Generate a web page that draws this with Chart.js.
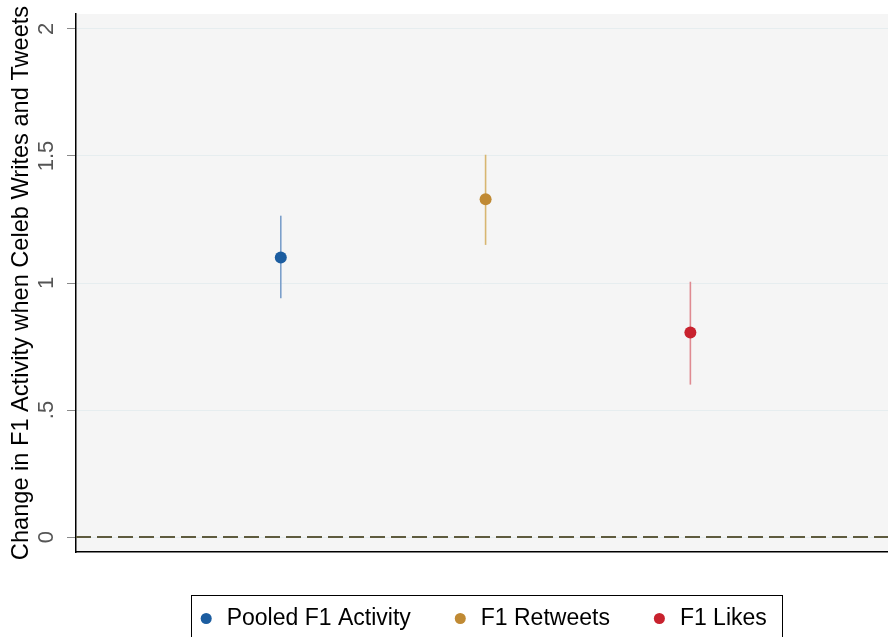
<!DOCTYPE html>
<html>
<head>
<meta charset="utf-8">
<script src="https://cdn.jsdelivr.net/npm/chart.js@4.4.1/dist/chart.umd.min.js"></script>
<style>
  html, body { margin: 0; padding: 0; background: #fff; }
</style>
</head>
<body>
<canvas id="coefChart" width="888" height="637"></canvas>
<script>
// coefficient estimates with 95% CI
const seriesNames = ['Pooled F1 Activity', 'F1 Retweets', 'F1 Likes'];
const seriesX = [1, 2, 3];
const estimates = [1.10, 1.33, 0.805];
const ciLow = [0.94, 1.15, 0.60];
const ciHigh = [1.265, 1.505, 1.005];
const yTicks = [0, 0.5, 1, 1.5, 2];
const yTickLabels = ['0', '.5', '1', '1.5', '2'];

const dotColors = ['#1c5da0', '#c08a34', '#c8222e'];
const barColors = ['#7b9fca', '#d7b670', '#df8a91'];

const FONT = "'Liberation Sans', Arial, Helvetica, sans-serif";

// light grey plot region
const plotBg = {
  id: 'plotBg',
  beforeDraw(chart) {
    const { ctx, chartArea: a } = chart;
    ctx.save();
    ctx.fillStyle = '#f5f5f5';
    ctx.fillRect(a.left, a.top, a.right - a.left, a.bottom - a.top);
    ctx.restore();
  }
};

// frame round the legend
const legendFrame = {
  id: 'legendFrame',
  afterDraw(chart) {
    const boxes = chart.legend.legendHitBoxes;
    if (!boxes || !boxes.length) return;
    const ctx = chart.ctx;
    const l = Math.min(...boxes.map(b => b.left)) - 6;
    const r = Math.max(...boxes.map(b => b.left + b.width)) + 15;
    const t = boxes[0].top - 12;
    ctx.save();
    ctx.strokeStyle = '#000';
    ctx.lineWidth = 1;
    ctx.strokeRect(Math.round(l) + 0.5, Math.round(t) + 0.5, Math.round(r - l), 80);
    ctx.restore();
  }
};

const datasets = [];

// the points (these go in the legend)
seriesNames.forEach((name, i) => {
  datasets.push({
    type: 'scatter',
    label: name,
    data: [{ x: seriesX[i], y: estimates[i] }],
    backgroundColor: dotColors[i],
    borderColor: dotColors[i],
    pointRadius: 6,
    pointBorderWidth: 0,
    order: 0
  });
});

// confidence interval spikes
seriesNames.forEach((name, i) => {
  datasets.push({
    type: 'line',
    label: 'ci',
    data: [{ x: seriesX[i], y: ciLow[i] }, { x: seriesX[i], y: ciHigh[i] }],
    borderColor: barColors[i],
    borderWidth: 1.6,
    pointRadius: 0,
    fill: false,
    order: 1
  });
});

// zero reference line
datasets.push({
  type: 'line',
  label: 'zero',
  data: [{ x: 0, y: 0 }, { x: 4, y: 0 }],
  borderColor: '#5e5b3e',
  borderWidth: 2,
  borderDash: [15, 6],
  pointRadius: 0,
  fill: false,
  order: 2
});

new Chart(document.getElementById('coefChart'), {
  type: 'scatter',
  data: { datasets: datasets },
  options: {
    responsive: false,
    animation: false,
    layout: { autoPadding: false, padding: { top: 14, left: 0, right: 0, bottom: -3 } },
    scales: {
      x: {
        type: 'linear',
        min: 0,
        max: 3.965,
        ticks: { display: false },
        grid: { display: false, drawTicks: false },
        border: { color: '#000', width: 1.5 },
        afterFit(s) {
          s.height = 14.5;
          s.paddingLeft = 0;
          s.paddingRight = 0;
        }
      },
      y: {
        type: 'linear',
        min: -0.059,
        max: 2.059,
        afterBuildTicks(s) { s.ticks = yTicks.map(v => ({ value: v })); },
        ticks: {
          callback: (v) => yTickLabels[yTicks.indexOf(v)],
          minRotation: 90,
          maxRotation: 90,
          crossAlign: 'center',
          padding: 5,
          color: '#555',
          font: { family: FONT, size: 22 }
        },
        grid: {
          color: '#e6edef',
          lineWidth: 1,
          tickColor: '#8a8a8a',
          tickLength: 9,
          tickWidth: 1
        },
        border: { color: '#000', width: 1.5 },
        title: {
          display: true,
          text: 'Change in F1 Activity when Celeb Writes and Tweets',
          color: '#000',
          font: { family: FONT, size: 23.6 },
          padding: { top: 7, bottom: 0 }
        },
        afterFit(s) {
          s.width = 76;
          s.paddingTop = 0;
          s.paddingBottom = 0;
        }
      }
    },
    plugins: {
      tooltip: { enabled: false },
      legend: {
        position: 'bottom',
        fullSize: false,
        labels: {
          usePointStyle: true,
          pointStyle: 'circle',
          boxWidth: 18,
          boxHeight: 7.8,
          padding: 40.5,
          color: '#000',
          font: { family: FONT, size: 23 },
          filter: (item) => item.datasetIndex < seriesNames.length
        }
      }
    }
  },
  plugins: [plotBg, legendFrame]
});
</script>
</body>
</html>
